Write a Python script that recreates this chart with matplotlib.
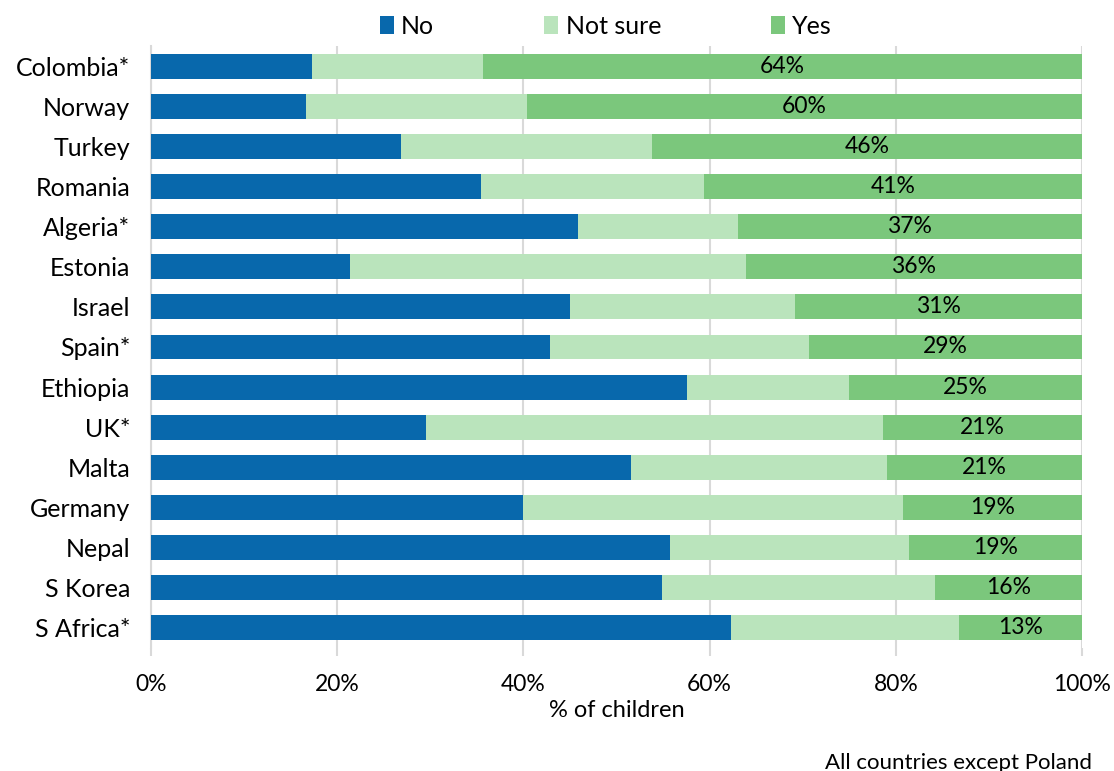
import matplotlib
matplotlib.use("Agg")
import matplotlib.pyplot as plt
import numpy as np

countries = ["Colombia*", "Norway", "Turkey", "Romania", "Algeria*", "Estonia", "Israel",
             "Spain*", "Ethiopia", "UK*", "Malta", "Germany", "Nepal", "S Korea", "S Africa*"]
no_vals = [17.3, 16.7, 26.8, 35.4, 45.9, 21.4, 45.0, 42.9, 57.6, 29.5, 51.6, 40.0, 55.8, 54.9, 62.3]
notsure_vals = [18.4, 23.7, 27.0, 24.0, 17.1, 42.5, 24.2, 27.8, 17.4, 49.1, 27.5, 40.8, 25.6, 29.3, 24.5]
yes_vals = [64.3, 59.6, 46.2, 40.6, 37.0, 36.1, 30.8, 29.3, 25.0, 21.4, 20.9, 19.2, 18.6, 15.8, 13.2]
xticks = [0, 20, 40, 60, 80, 100]
xtick_labels = ["0%", "20%", "40%", "60%", "80%", "100%"]

col_no = "#0868AC"
col_ns = "#BAE4BC"
col_yes = "#7BC77C"

plt.rcParams['font.family'] = ['Lato', 'DejaVu Sans']

fig = plt.figure(figsize=(11.14, 7.71), dpi=100)
ax = fig.add_axes([151/1114, 1-648/771, 931/1114, 602/771])

y = np.arange(len(countries))
no = np.array(no_vals)
ns = np.array(notsure_vals)
ye = np.array(yes_vals)
h = 0.62
ax.barh(y, no, height=h, color=col_no, label="No", zorder=3)
ax.barh(y, ns, left=no, height=h, color=col_ns, label="Not sure", zorder=3)
ax.barh(y, ye, left=no+ns, height=h, color=col_yes, label="Yes", zorder=3)

for i in range(len(countries)):
    ax.text(no[i] + ns[i] + ye[i]/2, y[i], f"{round(ye[i])}%", ha="center", va="center",
            fontsize=16.5, color="black", zorder=4)

ax.set_xlim(0, 100)
ax.set_ylim(len(countries)-0.5, -0.5)
ax.set_yticks(y)
ax.set_yticklabels(countries, fontsize=18)
ax.set_xticks(xticks)
ax.set_xticklabels(xtick_labels, fontsize=16.5)
ax.tick_params(axis='y', length=0, pad=15)
ax.tick_params(axis='x', length=6, color="#D9D9D9", width=1.5, pad=13)
ax.grid(axis='x', color="#D9D9D9", linewidth=1.5, zorder=0)
for s in ["top", "right", "bottom"]:
    ax.spines[s].set_visible(False)
ax.spines["left"].set_color("#D9D9D9")
ax.spines["left"].set_linewidth(1.5)
ax.set_xlabel("% of children", fontsize=17, labelpad=3)

fig.legend(loc="center", bbox_to_anchor=(606/1114, 1-26/771), ncol=3, frameon=False,
           fontsize=18, handlelength=0.55, handleheight=0.75, handletextpad=0.3,
           columnspacing=4.4, borderpad=0)

fig.text(1092/1114, 1-763/771, "All countries except Poland", ha="right", va="center", fontsize=16)

fig.savefig("out.png", dpi=100)
